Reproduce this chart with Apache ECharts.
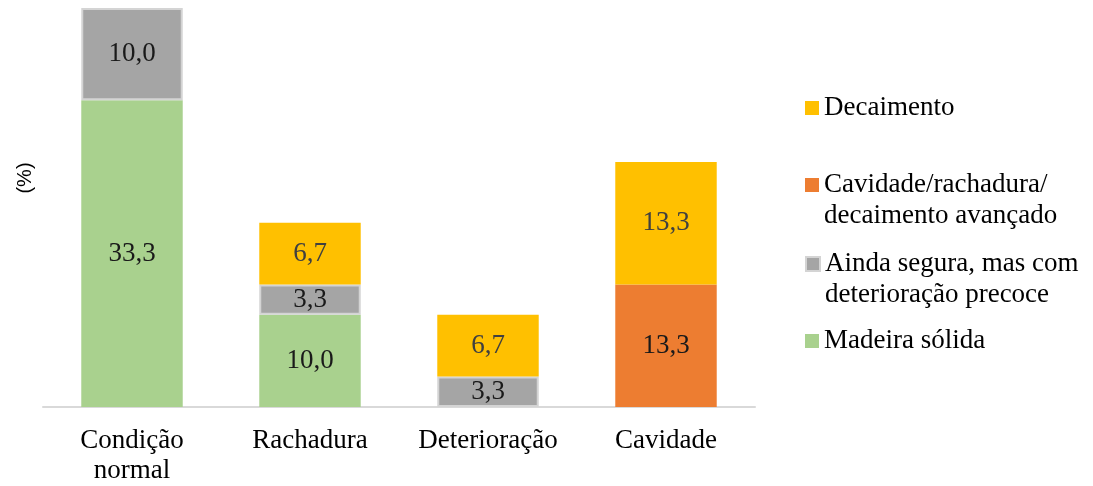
<!DOCTYPE html>
<html>
<head>
<meta charset="utf-8">
<script src="https://cdn.jsdelivr.net/npm/echarts@6/dist/echarts.min.js"></script>
<style>
  html, body { margin: 0; padding: 0; background: #fff; }
  #chart { width: 1093px; height: 486px; }
</style>
</head>
<body>
<div id="chart"></div>
<script>
  const categories = ['Condição\nnormal', 'Rachadura', 'Deterioração', 'Cavidade'];
  const madeiraSolida = [33.3, 10.0, '-', '-'];
  const aindaSegura = [10.0, 3.3, 3.3, '-'];
  const avancado = ['-', '-', '-', 13.3];
  const decaimento = ['-', 6.7, 6.7, 13.3];

  const names = {
    madeira: 'Madeira sólida',
    ainda: 'Ainda segura, mas com\ndeterioração precoce',
    avancado: 'Cavidade/rachadura/\ndecaimento avançado',
    decaimento: 'Decaimento',
  };

  const font = "'Liberation Serif', 'Times New Roman', serif";

  const label = {
    show: true,
    position: 'inside',
    fontFamily: font,
    fontSize: 27,
    color: '#1a1a1a',
    formatter(p) {
      return Number(p.value).toFixed(1).replace('.', ',');
    },
  };

  // two-line names get a blank first line so the icon sits on the first text line
  function legendItem(name, iconY, twoLines) {
    return {
      data: [name],
      orient: 'vertical',
      left: 805,
      top: twoLines ? iconY - 46.5 : iconY - 15.5,
      padding: 0,
      itemWidth: 14,
      itemHeight: 14,
      icon: 'rect',
      selectedMode: false,
      formatter: (n) => (twoLines ? ' \n' + n : n),
      textStyle: {
        fontFamily: font,
        fontSize: 27,
        lineHeight: 31,
        color: '#000',
      },
    };
  }

  const option = {
    animation: false,
    grid: { left: 43, right: 338, top: 8, bottom: 79 },
    legend: [
      legendItem(names.decaimento, 108, false),
      legendItem(names.avancado, 185, true),
      legendItem(names.ainda, 264, true),
      legendItem(names.madeira, 341, false),
    ],
    graphic: [
      {
        type: 'text',
        x: 25,
        y: 178,
        rotation: Math.PI / 2,
        style: {
          text: '(%)',
          font: "20px 'Liberation Sans', Arial, sans-serif",
          fill: '#000',
          align: 'center',
          verticalAlign: 'middle',
        },
      },
    ],
    xAxis: {
      type: 'category',
      data: categories,
      axisLine: { lineStyle: { color: '#d9d9d9', width: 2 } },
      axisTick: { show: false },
      axisLabel: {
        interval: 0,
        margin: 19,
        fontFamily: font,
        fontSize: 27,
        lineHeight: 30,
        color: '#000',
      },
    },
    yAxis: {
      type: 'value',
      min: 0,
      max(v) { return v.max; },
      show: false,
    },
    series: [
      {
        name: names.madeira,
        type: 'bar',
        stack: 'total',
        barWidth: '57%',
        data: madeiraSolida,
        itemStyle: { color: '#a9d18e' },
        label,
      },
      {
        name: names.ainda,
        type: 'bar',
        stack: 'total',
        data: aindaSegura,
        itemStyle: { color: '#a5a5a5', borderColor: '#d4d4d4', borderWidth: 2 },
        label,
      },
      {
        name: names.avancado,
        type: 'bar',
        stack: 'total',
        data: avancado,
        itemStyle: { color: '#ed7d31' },
        label,
      },
      {
        name: names.decaimento,
        type: 'bar',
        stack: 'total',
        data: decaimento,
        itemStyle: { color: '#ffc000' },
        label: Object.assign({}, label, { color: '#404040' }),
      },
    ],
  };

  const myChart = echarts.init(document.getElementById('chart'));
  myChart.setOption(option);
</script>
</body>
</html>
